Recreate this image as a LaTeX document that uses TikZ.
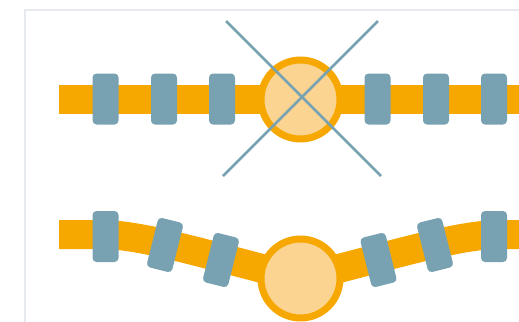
\documentclass[tikz,border=0pt]{standalone}
\usepackage{tikz}
\usetikzlibrary{backgrounds}

\definecolor{bandOrange}{HTML}{F6A800}
\definecolor{hubFill}{HTML}{FCD491}
\definecolor{clipBlue}{HTML}{78A2B1}
\definecolor{frameGray}{HTML}{E6EAEE}

\tikzset{
  band/.style={draw=bandOrange,line width=21.75pt},
  clipblock/.style={fill=clipBlue,rounded corners=3pt,minimum width=19.5pt,minimum height=38.25pt,inner sep=0pt},
  hub/.style={circle,draw=bandOrange,line width=5.25pt,fill=hubFill,minimum size=59.25pt,inner sep=0pt},
  cross/.style={draw=clipBlue,line width=1.9pt}
}

\begin{document}
\begin{tikzpicture}[x=0.75pt,y=0.75pt,yscale=-1,xscale=1]
\useasboundingbox (0,0) rectangle (519,322);

%Shape: Frame
\begin{scope}
\clip (0,0) rectangle (519,322);
\draw [frameGray,line width=1.5pt] (24.5,9.5) rectangle (545,340);
\end{scope}

%Coordinates
\coordinate (bandAstart) at (59,99.5);
\coordinate (bandAend) at (519,99.5);
\coordinate (hubAc) at (300.5,99.5);
\coordinate (bandBstart) at (59,234.5);
\coordinate (bandBend) at (519,234.5);
\coordinate (hubBc) at (300.5,278.5);
\coordinate (crossA1) at (226,21);
\coordinate (crossA2) at (381,176);
\coordinate (crossB1) at (378,21);
\coordinate (crossB2) at (223,176);

%Straight Lines: upper band
\draw [band] (bandAstart) -- (bandAend);
%Curve Lines: lower band
\draw [band] (bandBstart) -- (100,234.5) .. controls (140,234.5) and (190,250) .. (hubBc)
  .. controls (411,250) and (461,234.5) .. (501,234.5) -- (bandBend);

%Shape: Blocks upper
\node [clipblock] (clipA1) at (105.5,99) {};
\node [clipblock] (clipA2) at (164,99) {};
\node [clipblock] (clipA3) at (222,99) {};
\node [clipblock] (clipA4) at (377.5,99) {};
\node [clipblock] (clipA5) at (436,99) {};
\node [clipblock] (clipA6) at (494,99) {};

%Shape: Blocks lower
\node [clipblock] (clipB1) at (105.5,236.5) {};
\node [clipblock,rotate=-14] (clipB2) at (165,245) {};
\node [clipblock,rotate=-14] (clipB3) at (221,260) {};
\node [clipblock,rotate=14] (clipB4) at (378.5,260) {};
\node [clipblock,rotate=14] (clipB5) at (435,245) {};
\node [clipblock] (clipB6) at (494,236.5) {};

%Shape: Circle
\node [hub] (hubA) at (hubAc) {};
\node [hub] (hubB) at (hubBc) {};

%Straight Lines: cross
\draw [cross] (crossA1) -- (crossA2);
\draw [cross] (crossB1) -- (crossB2);

\end{tikzpicture}
\end{document}
